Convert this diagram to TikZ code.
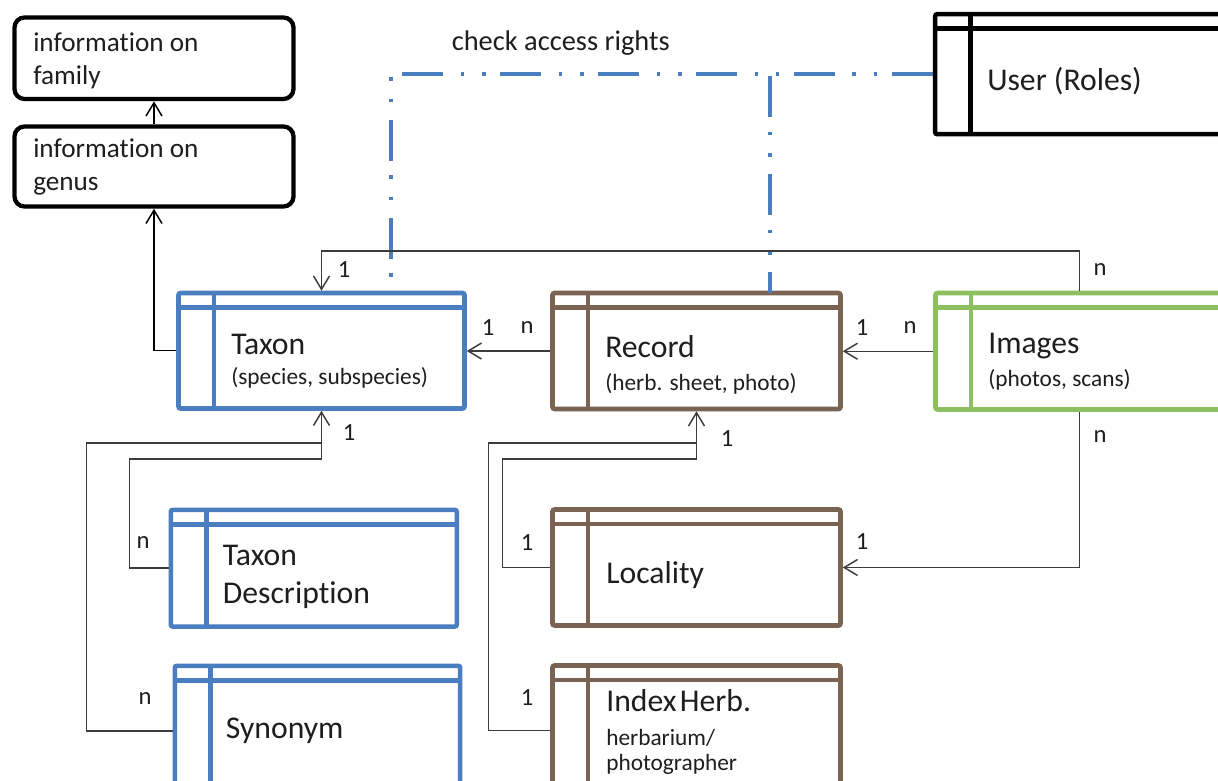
\documentclass[tikz,border=0pt]{standalone}
\usepackage{fontspec}
\setmainfont{Carlito}[Ligatures={NoCommon,NoContextual}]
\usetikzlibrary{arrows.meta,calc}
\definecolor{eblue}{HTML}{4A7EC1}
\definecolor{ebrown}{HTML}{7A6352}
\definecolor{egreen}{HTML}{8CBF5E}
\definecolor{conncol}{HTML}{3C3C3C}
\definecolor{txt}{HTML}{1E1E1E}
\tikzset{
  ent/.style={rectangle, draw, line width=3.4pt, rounded corners=1.5pt, inner sep=0pt, outer sep=0pt},
  entline/.style={line width=3.4pt},
  infobox/.style={rectangle, draw=black, line width=3.2pt, rounded corners=7.5pt, inner sep=0pt, outer sep=0pt},
  conn/.style={draw=conncol, line width=1.1pt, shorten <=1.7pt},
  arr/.style={-{Straight Barb[length=10pt,width=12pt]}, shorten >=1.7pt},
  dashline/.style={draw=eblue, line width=3pt, shorten <=1.7pt,
    dash pattern=on 30.75pt off 10.9pt on 2.6pt off 13.5pt on 2.6pt off 13.1pt},
  lbl/.style={inner sep=0pt, text=txt, font=\fontsize{18.5pt}{22pt}\selectfont},
  ttl/.style={inner sep=0pt, anchor=base west, text=txt, font=\fontsize{23.75pt}{28pt}\selectfont},
  sub/.style={inner sep=0pt, anchor=base west, text=txt, font=\fontsize{17.5pt}{21pt}\selectfont},
  info/.style={inner sep=0pt, anchor=base west, text=txt, font=\fontsize{20.4pt}{24pt}\selectfont},
}
\newcommand\entity[5]{%
  \node[ent, draw=#5, minimum width={#3*0.75pt}, minimum height={#4*0.75pt}] (#1) at (#2) {};
  \draw[#5, entline] ($(#1.north west)+(0,14.5)$) -- ($(#1.north east)+(0,14.5)$);
  \draw[#5, entline] ($(#1.north west)+(35.5,0)$) -- ($(#1.south west)+(35.5,0)$);
}
\begin{document}
\begin{tikzpicture}[x=0.75pt,y=-0.75pt]
\useasboundingbox (0,0) rectangle (1218,781);
\clip (0,0) rectangle (1218,781);
\fill[white] (0,0) rectangle (1218,781);

% info boxes
\node[infobox, minimum width={279*0.75pt}, minimum height={81.5*0.75pt}] (family) at (154,58.25) {};
\node[infobox, minimum width={279*0.75pt}, minimum height={80*0.75pt}] (genus) at (154,166.5) {};
\node[info] (tfam1) at (33,52) {information on};
\node[info] (tfam2) at (33,85) {family};
\node[info] (tgen1) at (33,158) {information on};
\node[info] (tgen2) at (33,191) {genus};

% entities
\entity{user}{1079.2,74.2}{288}{120}{black}
\entity{taxon}{321.5,350.75}{286}{115.5}{eblue}
\entity{record}{696.5,351}{288}{116}{ebrown}
\entity{images}{1079.5,351.25}{288}{116.5}{egreen}
\entity{taxdesc}{313.8,568.2}{286}{116.7}{eblue}
\entity{synonym}{317.5,730.8}{285.4}{130}{eblue}
\entity{locality}{696.5,567.5}{288}{116}{ebrown}
\entity{index}{696.5,730.5}{288}{130}{ebrown}

% entity texts
\node[ttl] (tuser) at (987,90.7) {User (Roles)};
\node[ttl] (ttaxon) at (231,354) {Taxon};
\node[sub] (ttaxons) at (231,384.5) {(species, subspecies)};
\node[ttl] (trecord) at (605,357.3) {Record};
\node[sub] (trecords) at (605,390) {(herb. sheet, photo)};
\node[ttl] (timages) at (988,353.3) {Images};
\node[sub] (timagess) at (988,386.7) {(photos, scans)};
\node[ttl] (ttd1) at (222.7,565) {Taxon};
\node[ttl] (ttd2) at (222.7,603.3) {Description};
\node[ttl] (tsyn) at (225.7,738) {Synonym};
\node[ttl] (tloc) at (606,583.3) {Locality};
\node[ttl] (tih1) at (606,711.7) {Index\hspace{-0.12em} Herb.};
\node[sub] (tih2) at (606,745) {herbarium/};
\node[sub] (tih3) at (606,770.7) {photographer};

% access rights (dash-dot)
\node[info, font=\fontsize{21.3pt}{25pt}\selectfont] (tcheck) at (451.5,50.7) {check access rights};
\coordinate (dleft) at ($(taxon.north west)+(212.5,0)$);
\coordinate (dright) at ($(record.north west)+(217.5,0)$);
\draw[dashline] (user.west) -| (dleft);
\draw[dashline] (user.west -| dright) -- (dright);

% connectors
\coordinate (topy) at (0,251);
\coordinate (tdx) at (129.3,459);
\coordinate (syx) at (86.7,443);
\coordinate (lcx) at (502.7,459);
\coordinate (ihx) at (488.7,443);

\draw[conn, arr, draw=black] (taxon.west) -| (genus.south);
\draw[conn, arr, draw=black] (genus.north) -- (family.south);
\draw[conn, arr] (record.west) -- (record.west -| taxon.east);
\draw[conn, arr] (images.west) -- (images.west -| record.east);
\draw[conn, arr] (images.north) -- (images.north |- topy) -| (taxon.north);
\draw[conn, arr] (images.south) |- (locality.east);
\draw[conn, arr] (taxdesc.west) -| (tdx) -| (taxon.south);
\draw[conn] (synonym.west) -| (syx) -- (syx -| taxon.south);
\draw[conn, arr] (locality.west) -| (lcx) -| (record.south);
\draw[conn] (index.west) -| (ihx) -- (ihx -| record.south);

% cardinality labels
\node[lbl] (c1) at (488,328) {1};
\node[lbl] (c2) at (527,328) {n};
\node[lbl] (c3) at (862,328) {1};
\node[lbl] (c4) at (910,328) {n};
\node[lbl] (c5) at (1100,270) {n};
\node[lbl] (c6) at (344,270) {1};
\node[lbl] (c7) at (1100,437) {n};
\node[lbl] (c8) at (862,542) {1};
\node[lbl] (c9) at (349,433) {1};
\node[lbl] (c10) at (143,543) {n};
\node[lbl] (c11) at (145,699) {n};
\node[lbl] (c12) at (527,543) {1};
\node[lbl] (c13) at (527,698) {1};
\node[lbl] (c14) at (727,439) {1};
\end{tikzpicture}
\end{document}
